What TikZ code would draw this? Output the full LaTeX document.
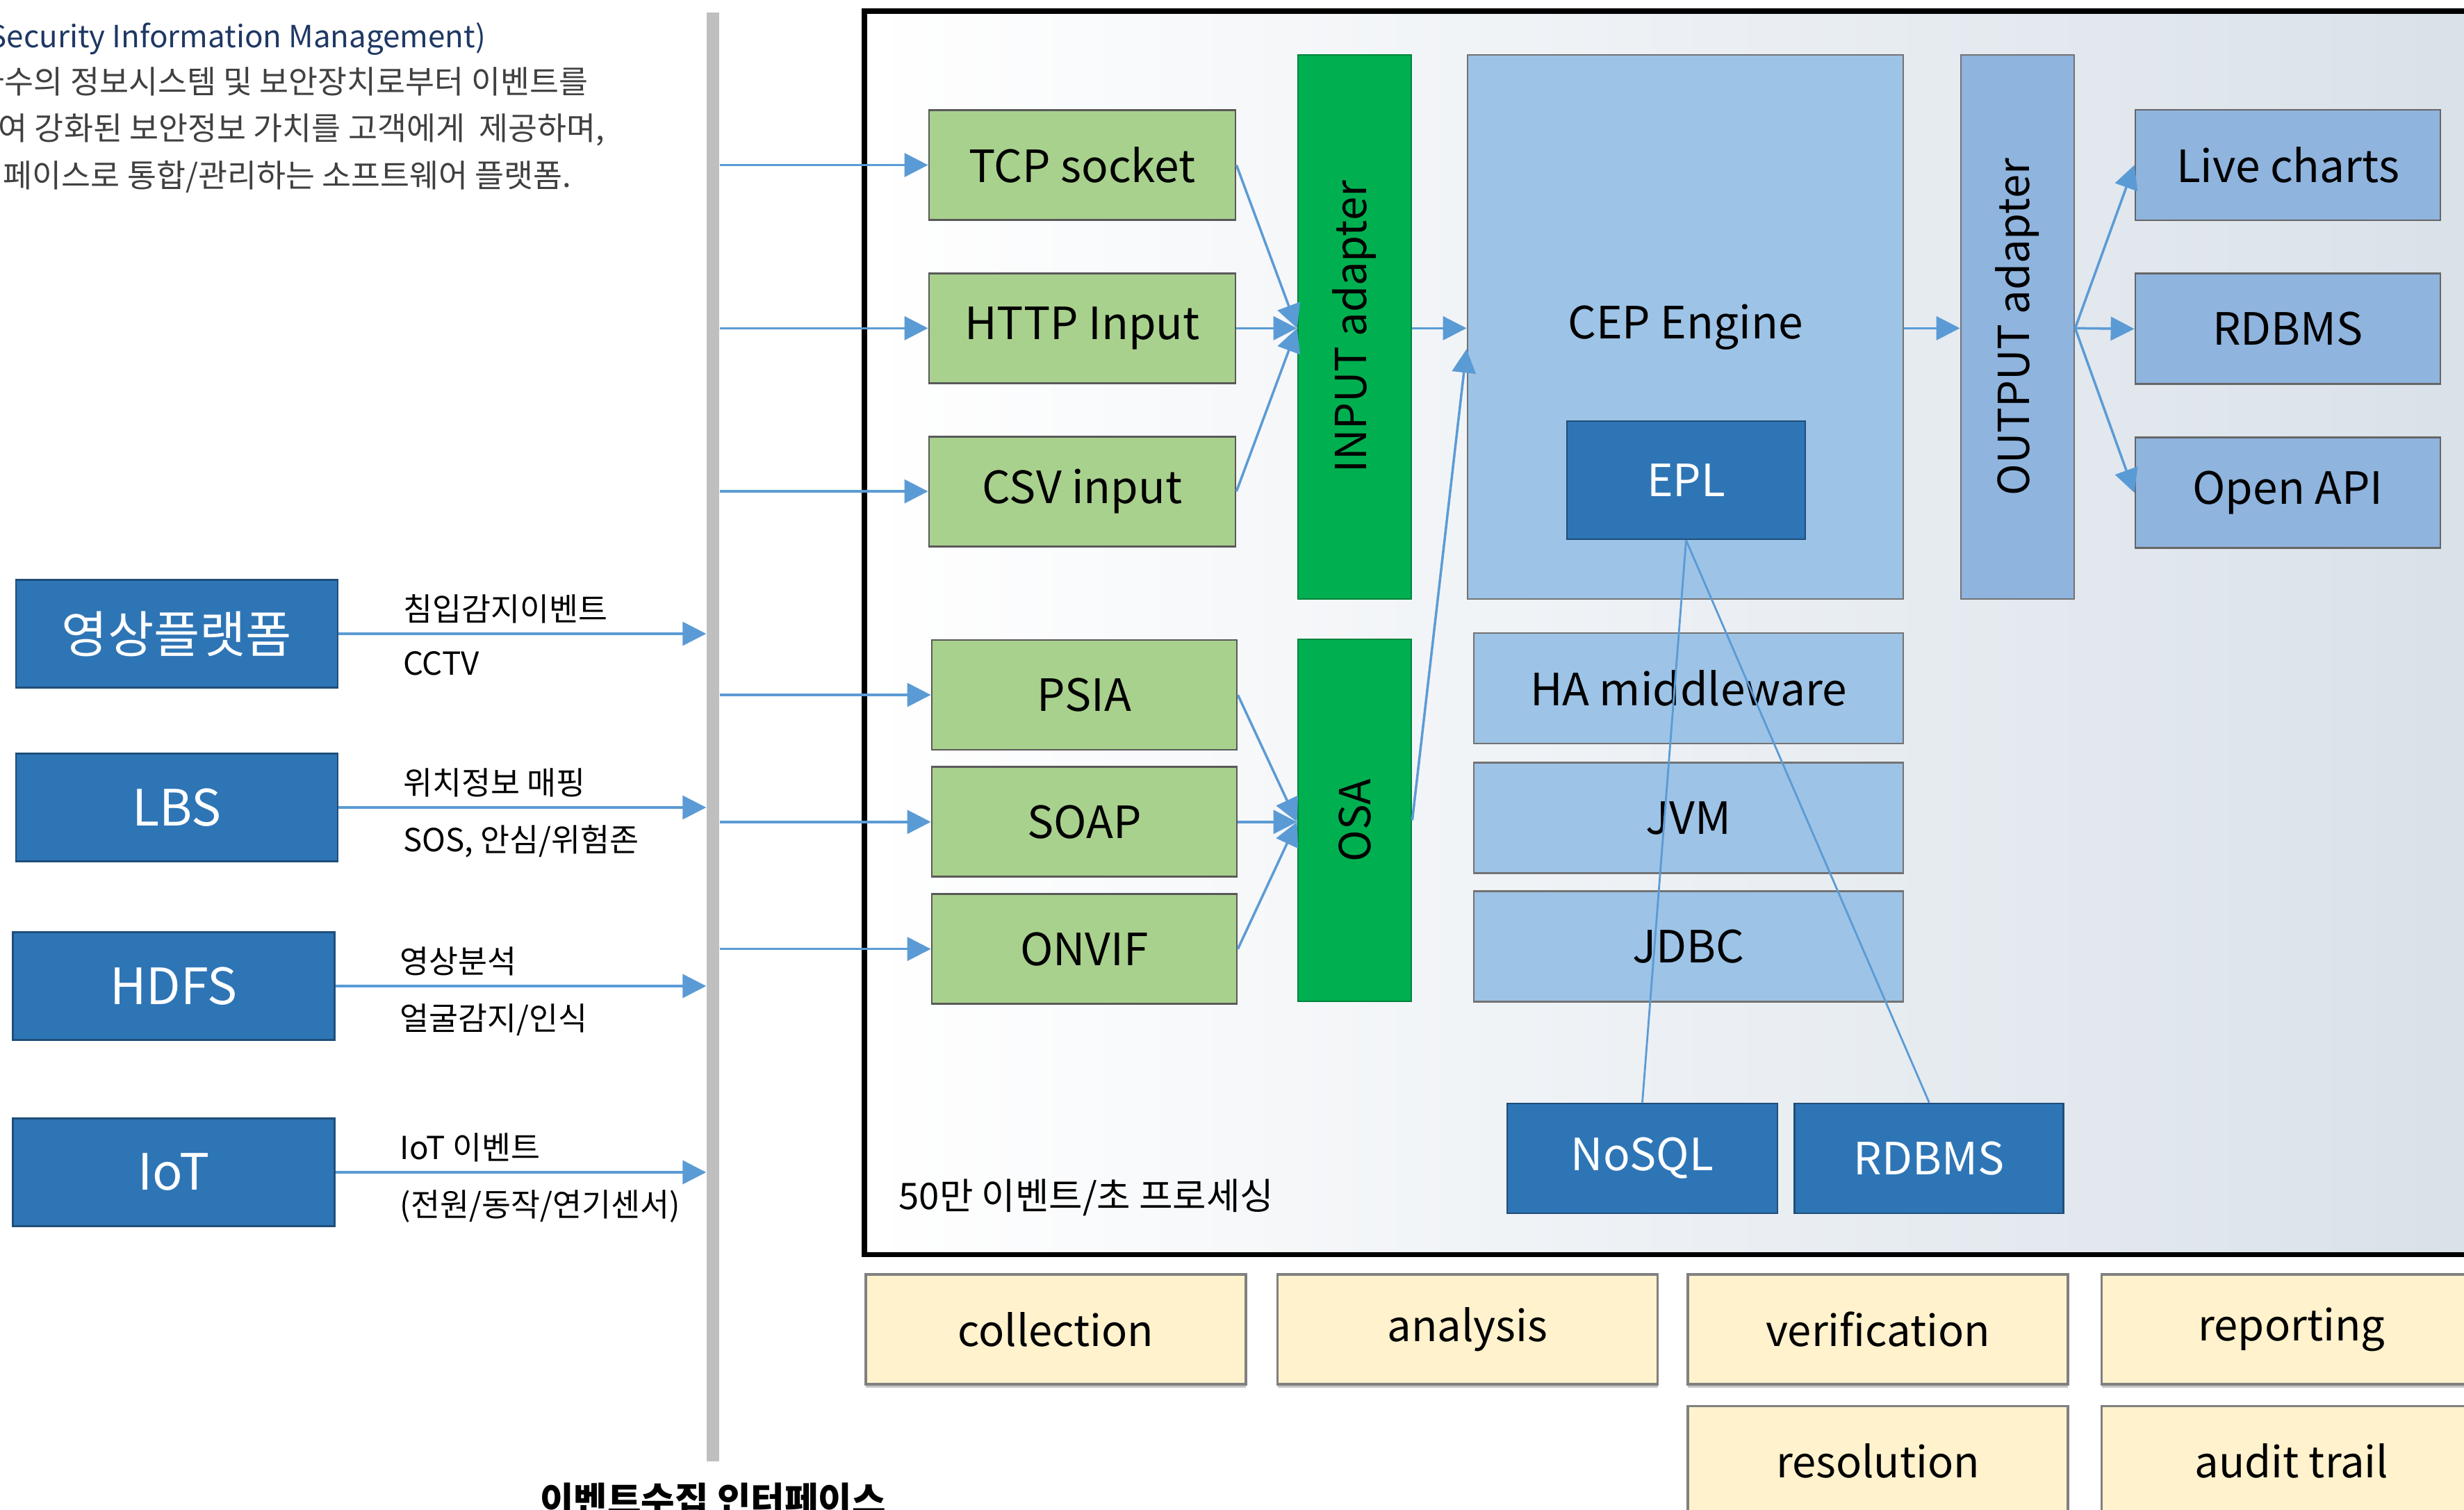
\documentclass[tikz,border=0pt]{standalone}
\usepackage{fontspec}
\setmainfont{Noto Sans CJK KR}
\usetikzlibrary{positioning, arrows.meta, shadows}

\definecolor{srcblue}{HTML}{2E75B6}
\definecolor{srcedge}{HTML}{1F4E79}
\definecolor{ingreen}{HTML}{A9D18E}
\definecolor{adgreen}{HTML}{00B050}
\definecolor{cepblue}{HTML}{9DC3E6}
\definecolor{outblue}{HTML}{8FB4DE}
\definecolor{flowblue}{HTML}{5B9BD5}
\definecolor{busgray}{HTML}{BFBFBF}
\definecolor{stageyellow}{HTML}{FFF2CC}
\definecolor{titleblue}{HTML}{1F3864}
\definecolor{bgblue}{HTML}{D8E0E8}

\begin{document}
\begin{tikzpicture}[
    node distance=0.74cm and 0.45cm,
    flow/.style={draw=flowblue, line width=1pt, -{Triangle[length=0.34cm, width=0.34cm]}},
    link/.style={draw=flowblue, line width=0.8pt},
    srcbox/.style={rectangle, draw=srcedge, line width=0.8pt, fill=srcblue, text=white, minimum width=4.63cm, minimum height=1.55cm, font=\fontsize{20.5}{24}\selectfont},
    inbox/.style={rectangle, draw=black!65, line width=0.8pt, fill=ingreen, minimum width=4.41cm, minimum height=1.58cm, font=\fontsize{18.2}{22}\selectfont},
    adbox/.style={rectangle, draw=adgreen!75!black, line width=0.8pt, fill=adgreen, minimum width=1.63cm, inner sep=0pt},
    adtext/.style={rotate=90, font=\fontsize{17.5}{21}\selectfont},
    cepbox/.style={rectangle, draw=black!55, line width=0.8pt, fill=cepblue, font=\fontsize{18.2}{22}\selectfont},
    outbox/.style={rectangle, draw=black!60, line width=0.8pt, fill=outblue, minimum width=4.39cm, minimum height=1.59cm, font=\fontsize{18.2}{22}\selectfont},
    dbbox/.style={rectangle, draw=srcedge, line width=0.8pt, fill=srcblue, text=white, minimum width=3.89cm, minimum height=1.58cm, font=\fontsize{18.2}{22}\selectfont},
    stage/.style={rectangle, draw=black!50, line width=1pt, fill=stageyellow, minimum width=5.47cm, minimum height=1.58cm, font=\fontsize{17.5}{21}\selectfont, drop shadow={shadow xshift=0cm, shadow yshift=-0.05cm, opacity=0.45}},
    lblup/.style={pos=0, anchor=south west, inner sep=0pt, xshift=0.91cm, yshift=0.13cm, font=\fontsize{13}{15}\selectfont},
    lbldn/.style={pos=0, anchor=north west, inner sep=0pt, xshift=0.91cm, yshift=-0.24cm, font=\fontsize{13}{15}\selectfont},
    note/.style={anchor=base west, inner sep=0pt, text=black!75, font=\fontsize{13}{15}\selectfont}
]
    \useasboundingbox (0,0) rectangle (35.46,-21.73);
    \clip (0,0) rectangle (35.46,-21.73);

    % 설명 (왼쪽 위)
    \node[note, text=titleblue, font=\fontsize{12.5}{15}\selectfont] (simtitle) at (-0.17,-0.68) {Security Information Management)};
    \node[note] (desc1) at (-0.36,-1.34) {다수의 정보시스템 및 보안장치로부터 이벤트를};
    \node[note] (desc2) at (-0.03,-2.01) {여 강화된 보안정보 가치를 고객에게 \ 제공하며,};
    \node[note] (desc3) at (0.04,-2.69) {페이스로 통합/관리하는 소프트웨어 플랫폼.};

    % CEP 영역 틀
    \draw[line width=2pt, left color=white, right color=bgblue] (12.44,-0.16) rectangle (36.3,-18.05);
    \node[anchor=west, inner sep=0pt, font=\fontsize{15}{18}\selectfont] (eps) at (12.93,-17.23) {50만 이벤트/초 프로세싱};

    % 이벤트 수집 인터페이스
    \node[rectangle, fill=busgray, minimum width=0.18cm, minimum height=20.85cm, inner sep=0pt] (bus) at (10.26,-10.605) {};
    \node[below=0.3cm of bus, inner sep=0pt, font=\bfseries\fontsize{15}{18}\selectfont] (bustitle) {이벤트수집 인터페이스};

    \node[srcbox] (vms) at (2.545,-9.12) {영상플랫폼};
    \node[srcbox] (lbs) at (2.545,-11.62) {LBS};
    \node[srcbox] (hdfs) at (2.50,-14.19) {HDFS};
    \node[srcbox] (iot) at (2.50,-16.87) {IoT};

    \path[flow] (vms.east) -- (vms.east -| bus.west) node[lblup] {침입감지이벤트} node[lbldn] {CCTV};
    \path[flow] (lbs.east) -- (lbs.east -| bus.west) node[lblup] {위치정보 매핑} node[lbldn] {SOS, 안심/위험존};
    \path[flow] (hdfs.east) -- (hdfs.east -| bus.west) node[lblup] {영상분석} node[lbldn] {얼굴감지/인식};
    \path[flow] (iot.east) -- (iot.east -| bus.west) node[lblup] {IoT 이벤트} node[lbldn] {(전원/동작/연기센서)};

    % 입력
    \node[inbox] (tcp) at (15.575,-2.375) {TCP socket};
    \node[inbox, below=of tcp] (http) {HTTP Input};
    \node[inbox, below=of http] (csv) {CSV input};
    \node[inbox, minimum width=4.39cm] (psia) at (15.605,-10.0) {PSIA};
    \node[inbox, minimum width=4.39cm, below=0.22cm of psia] (soap) {SOAP};
    \node[inbox, minimum width=4.39cm, below=0.22cm of soap] (onvif) {ONVIF};

    \node[adbox, minimum height=7.83cm, label={[adtext]center:INPUT adapter}] (inad) at (19.495,-4.705) {};
    \node[adbox, minimum height=5.21cm, label={[adtext]center:OSA}] (osa) at (19.495,-11.805) {};

    \path[flow] (bus.east |- tcp.west) -- (tcp.west);
    \path[flow] (bus.east |- http.west) -- (http.west);
    \path[flow] (bus.east |- csv.west) -- (csv.west);
    \path[flow] (bus.east |- psia.west) -- (psia.west);
    \path[flow] (bus.east |- soap.west) -- (soap.west);
    \path[flow] (bus.east |- onvif.west) -- (onvif.west);

    \coordinate (inhub) at (inad.west |- http.east);
    \coordinate (osahub) at (osa.west |- soap.east);
    \path[flow] (tcp.east) -- (inhub);
    \path[flow] (http.east) -- (inhub);
    \path[flow] (csv.east) -- (inhub);
    \path[flow] (psia.east) -- (osahub);
    \path[flow] (soap.east) -- (osahub);
    \path[flow] (onvif.east) -- (osahub);

    % CEP 엔진
    \node[cepbox, minimum width=6.27cm, minimum height=7.83cm] (cep) at (24.255,-4.705) {CEP Engine};
    \node[dbbox, minimum width=3.43cm, minimum height=1.70cm] (epl) at (24.265,-6.91) {EPL};
    \node[cepbox, minimum width=6.18cm, minimum height=1.59cm] (ha) at (24.30,-9.905) {HA middleware};
    \node[cepbox, minimum width=6.18cm, minimum height=1.59cm, below=0.25cm of ha] (jvm) {JVM};
    \node[cepbox, minimum width=6.18cm, minimum height=1.59cm, below=0.23cm of jvm] (jdbc) {JDBC};
    \node[dbbox] (nosql) at (23.635,-16.67) {NoSQL};
    \node[dbbox, minimum width=3.87cm, right=0.22cm of nosql] (rdb) {RDBMS};

    \coordinate (cepin) at (cep.west |- http.east);
    \path[flow] (inad.east |- http.east) -- (cepin);
    \path[flow] (osa.east) -- ([yshift=-0.3cm]cepin);
    \path[link] (epl.south) -- (nosql.north);
    \path[link] (epl.south) -- (rdb.north);

    % 출력
    \node[cepbox, fill=outblue, minimum width=1.63cm, minimum height=7.83cm, inner sep=0pt, label={[adtext]center:OUTPUT adapter}] (outad) at (29.035,-4.705) {};
    \node[outbox] (live) at (32.925,-2.375) {Live charts};
    \node[outbox, below=of live] (rdbms) {RDBMS};
    \node[outbox, below=of rdbms] (api) {Open API};

    \coordinate (outhub) at (outad.east |- http.east);
    \path[flow] (cep.east |- http.east) -- (outad.west |- http.east);
    \path[flow] (outhub) -- (live.west);
    \path[flow] (outhub) -- (rdbms.west);
    \path[flow] (outhub) -- (api.west);

    % 처리 단계
    \node[stage] (collect) at (15.195,-19.13) {collection};
    \node[stage, right=0.42cm of collect] (analyze) {analysis};
    \node[stage, right=0.40cm of analyze] (verify) {verification};
    \node[stage, right=0.45cm of verify] (report) {reporting};
    \node[stage, below=0.28cm of verify] (resolve) {resolution};
    \node[stage, below=0.28cm of report] (audit) {audit trail};
\end{tikzpicture}
\end{document}
